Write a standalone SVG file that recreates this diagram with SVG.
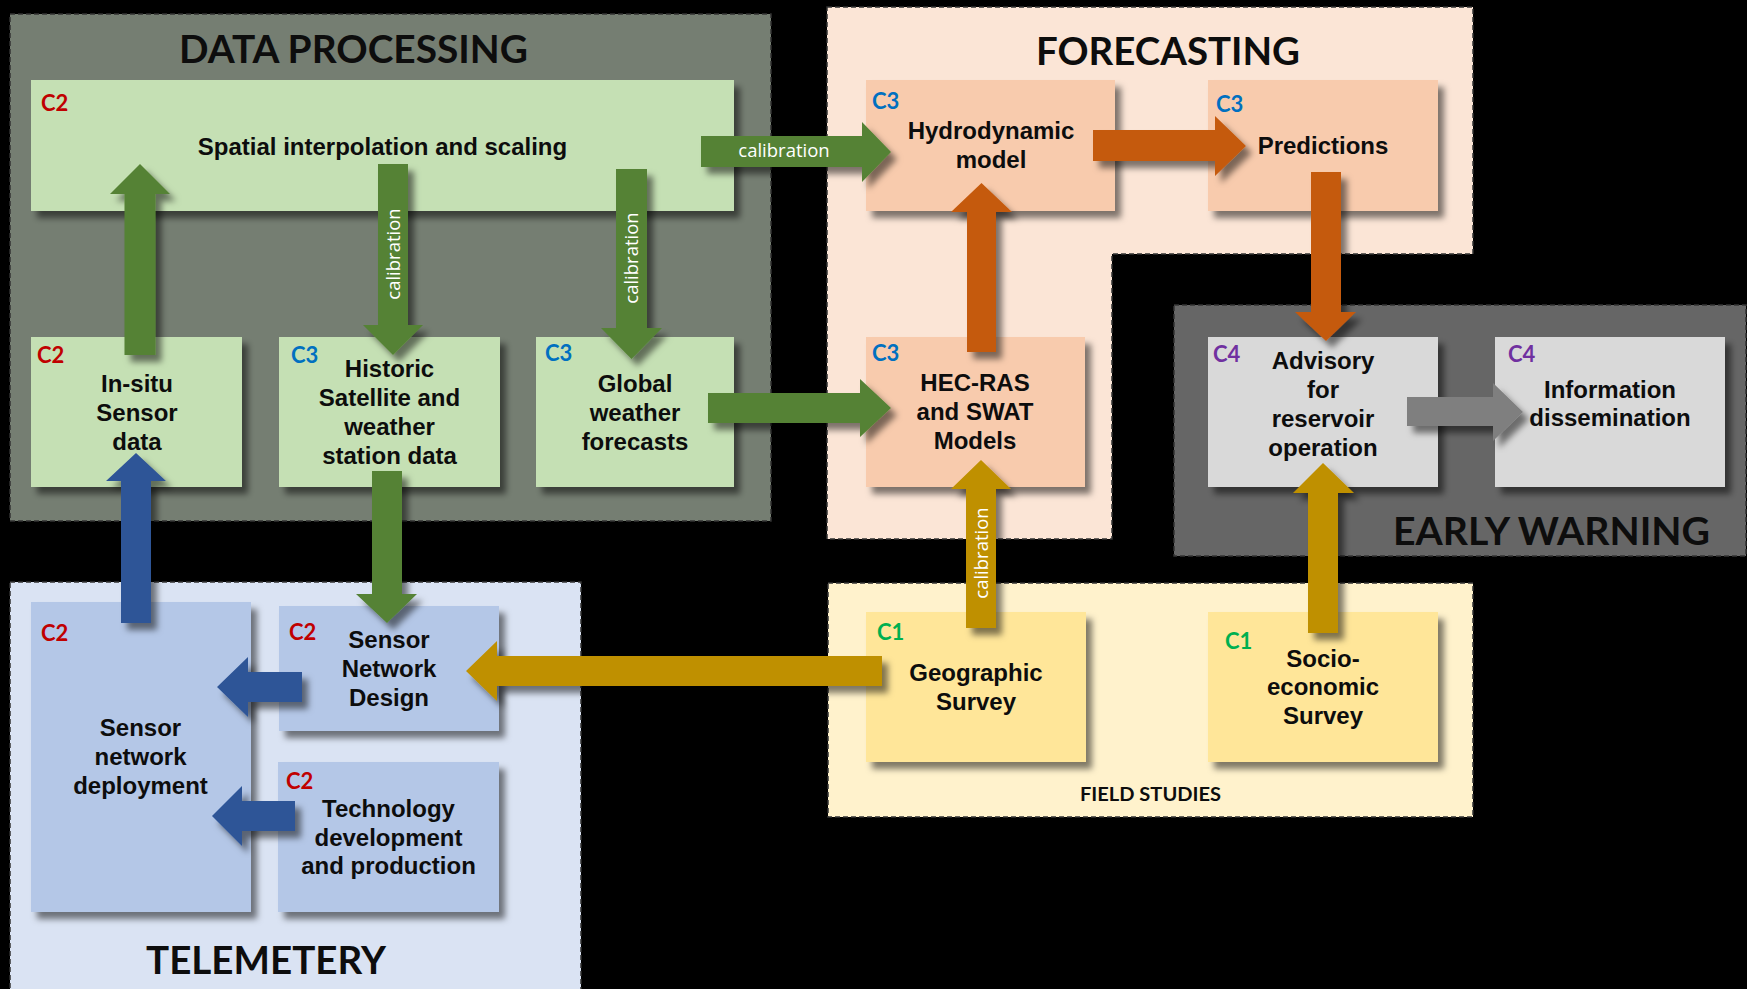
<svg xmlns="http://www.w3.org/2000/svg" width="1747" height="989" viewBox="0 0 1747 989">
<defs>
<filter id="sh" x="-20%" y="-20%" width="140%" height="140%">
<feDropShadow dx="6" dy="7" stdDeviation="3" flood-color="#000" flood-opacity="0.5"/>
</filter>
<style>
.grp{stroke:#333;stroke-width:1.5;stroke-dasharray:5 3}
.ttl{font-family:Lato,"Open Sans",sans-serif;font-weight:700;fill:#0d0d0d}
.box{filter:url(#sh)}
.g{fill:#C5E0B4}.o{fill:#F8CBAD}.gr{fill:#D9D9D9}.b{fill:#B4C7E7}.y{fill:#FFE699}
.t{font-family:"Liberation Sans",Arial,sans-serif;font-weight:700;font-size:24px;fill:#0d0d0d;text-anchor:middle}
.c{font-family:Lato,"Open Sans",sans-serif;font-weight:700;font-size:22px}
.c1{fill:#00B050}.c2{fill:#C00000}.c3{fill:#0070C0}.c4{fill:#7030A0}
.ar{filter:url(#sh)}
.ag{fill:#548235}.ao{fill:#C55A11}.ab{fill:#2F5597}.ay{fill:#BF9000}.agr{fill:#7F7F7F}
.cal{font-family:"Open Sans","DejaVu Sans",sans-serif;font-size:18.5px;fill:#fff;text-anchor:middle}
</style>
</defs>
<rect x="0" y="0" width="1747" height="989" fill="#000"/>

<g id="groups">
<g id="group-data-processing">
<rect class="grp" x="10" y="14" width="761" height="507" fill="#757E72"/>
<text class="ttl" x="179" y="62.5" font-size="38" textLength="349" lengthAdjust="spacingAndGlyphs">DATA PROCESSING</text>
</g>
<g id="group-forecasting">
<polygon class="grp" points="827,7 1473,7 1473,254 1112,254 1112,539 827,539" fill="#FBE5D6"/>
<text class="ttl" x="1036" y="65" font-size="38" textLength="264" lengthAdjust="spacingAndGlyphs">FORECASTING</text>
</g>
<g id="group-early-warning">
<rect class="grp" x="1174" y="305" width="572" height="251" fill="#666666"/>
<text class="ttl" x="1393" y="544.6" font-size="38" textLength="317" lengthAdjust="spacingAndGlyphs">EARLY WARNING</text>
</g>
<g id="group-telemetry">
<rect class="grp" x="10" y="582" width="571" height="420" fill="#DAE3F3"/>
<text class="ttl" x="146" y="974" font-size="38" textLength="240" lengthAdjust="spacingAndGlyphs">TELEMETERY</text>
</g>
<g id="group-field-studies">
<rect class="grp" x="828" y="583" width="645" height="234" fill="#FFF2CC"/>
<text class="ttl" x="1080" y="800.7" font-size="18" textLength="141" lengthAdjust="spacingAndGlyphs">FIELD STUDIES</text>
</g>
</g>

<g id="nodes">
<g id="spatial">
<rect class="box g" x="31" y="80" width="703" height="131"/>
<text class="c c2" x="41" y="111">C2</text>
<text class="t" x="382.5" y="155">Spatial interpolation and scaling</text>
</g>
<g id="insitu">
<rect class="box g" x="31" y="337" width="211" height="150"/>
<text class="c c2" x="37" y="363">C2</text>
<text class="t" x="137" y="392">In-situ</text>
<text class="t" x="137" y="421">Sensor</text>
<text class="t" x="137" y="450">data</text>
</g>
<g id="historic">
<rect class="box g" x="279" y="337" width="221" height="150"/>
<text class="c c3" x="291" y="363">C3</text>
<text class="t" x="389.5" y="377">Historic</text>
<text class="t" x="389.5" y="405.5">Satellite and</text>
<text class="t" x="389.5" y="434.5">weather</text>
<text class="t" x="389.5" y="463.5">station data</text>
</g>
<g id="global">
<rect class="box g" x="536" y="337" width="198" height="150"/>
<text class="c c3" x="545" y="361">C3</text>
<text class="t" x="635" y="392">Global</text>
<text class="t" x="635" y="421">weather</text>
<text class="t" x="635" y="450">forecasts</text>
</g>
<g id="hydrodynamic">
<rect class="box o" x="866" y="80" width="249" height="131"/>
<text class="c c3" x="872" y="109">C3</text>
<text class="t" x="991" y="139">Hydrodynamic</text>
<text class="t" x="991" y="168">model</text>
</g>
<g id="predictions">
<rect class="box o" x="1208" y="80" width="230" height="131"/>
<text class="c c3" x="1216" y="112">C3</text>
<text class="t" x="1323" y="154">Predictions</text>
</g>
<g id="hecras">
<rect class="box o" x="866" y="337" width="219" height="150"/>
<text class="c c3" x="872" y="361">C3</text>
<text class="t" x="975" y="391">HEC-RAS</text>
<text class="t" x="975" y="420">and SWAT</text>
<text class="t" x="975" y="449">Models</text>
</g>
<g id="advisory">
<rect class="box gr" x="1208" y="337" width="230" height="150"/>
<text class="c c4" x="1213" y="362">C4</text>
<text class="t" x="1323" y="369">Advisory</text>
<text class="t" x="1323" y="398">for</text>
<text class="t" x="1323" y="427">reservoir</text>
<text class="t" x="1323" y="456">operation</text>
</g>
<g id="information">
<rect class="box gr" x="1495" y="337" width="230" height="150"/>
<text class="c c4" x="1508" y="362">C4</text>
<text class="t" x="1610" y="397.5">Information</text>
<text class="t" x="1610" y="426">dissemination</text>
</g>
<g id="deployment">
<rect class="box b" x="31" y="602" width="220" height="310"/>
<text class="c c2" x="41" y="641">C2</text>
<text class="t" x="140.5" y="736">Sensor</text>
<text class="t" x="140.5" y="765">network</text>
<text class="t" x="140.5" y="794">deployment</text>
</g>
<g id="network-design">
<rect class="box b" x="279" y="606" width="220" height="125"/>
<text class="c c2" x="289" y="640">C2</text>
<text class="t" x="389" y="648">Sensor</text>
<text class="t" x="389" y="677">Network</text>
<text class="t" x="389" y="706">Design</text>
</g>
<g id="technology">
<rect class="box b" x="278" y="762" width="221" height="150"/>
<text class="c c2" x="286" y="789">C2</text>
<text class="t" x="388.5" y="817">Technology</text>
<text class="t" x="388.5" y="845.5">development</text>
<text class="t" x="388.5" y="874">and production</text>
</g>
<g id="geographic">
<rect class="box y" x="866" y="612" width="220" height="150"/>
<text class="c c1" x="877" y="640">C1</text>
<text class="t" x="976" y="681">Geographic</text>
<text class="t" x="976" y="709.5">Survey</text>
</g>
<g id="socio">
<rect class="box y" x="1208" y="612" width="230" height="150"/>
<text class="c c1" x="1225" y="649">C1</text>
<text class="t" x="1323" y="667">Socio-</text>
<text class="t" x="1323" y="695">economic</text>
<text class="t" x="1323" y="723.5">Survey</text>
</g>
</g>

<g id="connectors">
<polygon class="ar ag" points="124.5,355 155.5,355 155.5,194 170,194 140,164 110,194 124.5,194"/>
<polygon class="ar ag" points="378,164 408,164 408,325 423,325 393,355 363,325 378,325"/>
<text class="cal" transform="translate(399.5,254) rotate(-90)">calibration</text>
<polygon class="ar ag" points="616,169 647,169 647,328 662,328 631.5,359 601,328 616,328"/>
<text class="cal" transform="translate(638,258) rotate(-90)">calibration</text>
<polygon class="ar ag" points="701,136 862,136 862,122 891,152 862,182 862,167 701,167"/>
<text class="cal" x="784" y="157">calibration</text>
<polygon class="ar ag" points="708,393 860,393 860,379 891,408 860,437 860,423 708,423"/>
<polygon class="ar ag" points="372,471 402,471 402,594 417,594 387,623 356,594 372,594"/>
<polygon class="ar ab" points="121,623 151,623 151,481 166,481 136,453 106,481 121,481"/>
<polygon class="ar ab" points="302,672 302,702 248,702 248,717 217,687 248,657 248,672"/>
<polygon class="ar ab" points="295,801 295,831 242,831 242,846 212,816 242,786 242,801"/>
<polygon class="ar ay" points="882,656 882,686 497,686 497,701 466,671 497,641 497,656"/>
<polygon class="ar ay" points="966,628 996,628 996,489 1011,489 981,460 951,489 966,489"/>
<text class="cal" transform="translate(987.5,553) rotate(-90)">calibration</text>
<polygon class="ar ay" points="1308,633 1338,633 1338,493 1354,493 1323,463 1293,493 1308,493"/>
<polygon class="ar ao" points="1093,130 1215,130 1215,116 1246,146 1215,176 1215,161 1093,161"/>
<polygon class="ar ao" points="967,352 996,352 996,212 1012,212 981.5,183 951,212 967,212"/>
<polygon class="ar ao" points="1311,172 1341,172 1341,312 1356,312 1326,341 1295,312 1311,312"/>
<polygon class="ar agr" points="1407,397 1493,397 1493,383 1523,412 1493,441 1493,426 1407,426"/>
</g>
</svg>
